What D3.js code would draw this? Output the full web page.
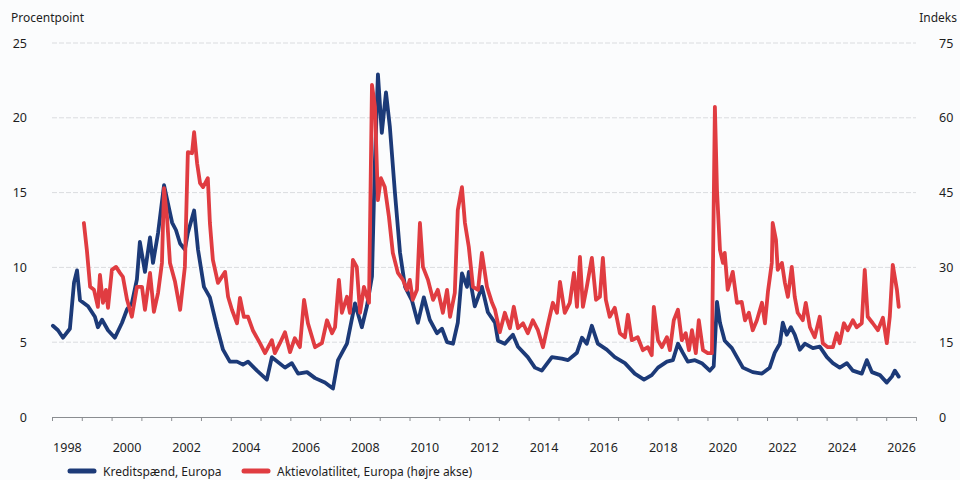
<!DOCTYPE html>
<html>
<head>
<meta charset="utf-8">
<script src="https://cdn.jsdelivr.net/npm/d3@7"></script>
<style>
  html, body { margin: 0; padding: 0; background: #fbfcfd; }
  svg { display: block; font-family: "Noto Sans", "Open Sans", sans-serif; }
</style>
</head>
<body>
<svg id="chart" width="960" height="480"></svg>
<script>
// ---- Data ----
const creditYears = [1998.03,1998.20,1998.37,1998.60,1998.74,1998.84,1998.94,1999.21,1999.44,1999.54,1999.68,1999.88,2000.11,2000.35,2000.52,2000.68,2000.85,2000.95,2001.12,2001.29,2001.39,2001.56,2001.76,2001.89,2002.03,2002.16,2002.30,2002.46,2002.56,2002.77,2002.90,2003.10,2003.30,2003.54,2003.74,2003.97,2004.21,2004.41,2004.58,2004.88,2005.21,2005.38,2005.82,2006.05,2006.26,2006.56,2006.83,2007.16,2007.43,2007.60,2007.90,2008.17,2008.40,2008.57,2008.74,2008.84,2008.94,2009.07,2009.21,2009.34,2009.51,2009.68,2009.85,2010.08,2010.28,2010.48,2010.68,2010.92,2011.09,2011.26,2011.46,2011.62,2011.76,2011.93,2011.99,2012.19,2012.43,2012.63,2012.87,2012.97,2013.20,2013.47,2013.64,2013.97,2014.21,2014.44,2014.78,2015.11,2015.32,2015.62,2015.79,2015.95,2016.12,2016.32,2016.62,2016.89,2017.23,2017.56,2017.87,2018.13,2018.34,2018.64,2018.84,2019.01,2019.17,2019.34,2019.58,2019.81,2020.08,2020.21,2020.32,2020.42,2020.58,2020.82,2020.99,2021.19,2021.52,2021.83,2022.09,2022.26,2022.43,2022.53,2022.66,2022.80,2022.93,2023.10,2023.27,2023.54,2023.77,2024.01,2024.21,2024.44,2024.68,2024.88,2025.18,2025.35,2025.52,2025.79,2026.02,2026.19,2026.29,2026.42];
const creditValues = [6.1,5.8,5.3,5.9,9.0,9.8,7.8,7.4,6.7,6.0,6.5,5.8,5.3,6.3,7.2,7.6,9.2,11.7,9.7,12.0,10.3,12.3,15.5,14.3,13.0,12.5,11.6,11.2,12.3,13.8,11.2,8.7,8.0,6.0,4.5,3.7,3.7,3.5,3.7,3.1,2.5,4.0,3.3,3.6,2.9,3.0,2.6,2.3,1.9,3.8,4.9,7.6,6.0,7.4,9.4,17.2,22.9,19.0,21.7,19.4,15.0,11.0,8.7,7.8,6.3,8.0,6.5,5.6,5.9,5.0,4.9,6.3,9.6,8.7,9.7,7.4,8.7,7.0,6.3,5.1,4.9,5.5,4.7,4.0,3.3,3.1,4.0,3.9,3.8,4.3,5.3,4.9,6.1,4.9,4.5,4.0,3.6,2.9,2.5,2.8,3.3,3.7,3.8,4.9,4.3,3.7,3.8,3.6,3.1,3.4,7.7,6.3,5.1,4.6,4.0,3.3,3.0,2.9,3.3,4.3,4.9,6.3,5.5,6.0,5.5,4.5,4.9,4.6,4.7,4.0,3.6,3.3,3.6,3.1,2.9,3.8,3.0,2.8,2.3,2.7,3.1,2.7];

const volYears = [1999.07,1999.17,1999.28,1999.41,1999.54,1999.61,1999.71,1999.81,1999.88,2000.01,2000.15,2000.28,2000.38,2000.52,2000.68,2000.85,2001.02,2001.12,2001.29,2001.42,2001.56,2001.69,2001.76,2001.86,2001.96,2002.13,2002.30,2002.46,2002.56,2002.70,2002.77,2002.87,2002.97,2003.07,2003.23,2003.30,2003.40,2003.57,2003.81,2003.91,2004.04,2004.21,2004.31,2004.44,2004.58,2004.74,2004.98,2005.15,2005.38,2005.48,2005.65,2005.82,2005.99,2006.15,2006.32,2006.46,2006.59,2006.83,2007.06,2007.23,2007.40,2007.50,2007.63,2007.73,2007.90,2008.00,2008.10,2008.23,2008.34,2008.47,2008.64,2008.74,2008.84,2008.94,2009.04,2009.17,2009.31,2009.44,2009.61,2009.78,2009.91,2010.01,2010.11,2010.25,2010.35,2010.45,2010.62,2010.79,2010.95,2011.12,2011.26,2011.36,2011.52,2011.62,2011.76,2011.86,2011.99,2012.13,2012.30,2012.43,2012.60,2012.77,2012.87,2013.03,2013.20,2013.37,2013.50,2013.64,2013.81,2013.97,2014.14,2014.31,2014.48,2014.64,2014.81,2014.95,2015.05,2015.21,2015.38,2015.52,2015.62,2015.72,2015.82,2015.95,2016.12,2016.26,2016.39,2016.49,2016.59,2016.72,2016.89,2017.06,2017.23,2017.33,2017.46,2017.66,2017.83,2018.00,2018.13,2018.20,2018.34,2018.47,2018.64,2018.74,2018.87,2019.01,2019.14,2019.27,2019.38,2019.48,2019.61,2019.71,2019.85,2020.01,2020.15,2020.25,2020.32,2020.42,2020.52,2020.58,2020.68,2020.85,2020.99,2021.15,2021.26,2021.39,2021.52,2021.66,2021.83,2021.93,2022.03,2022.16,2022.19,2022.30,2022.36,2022.50,2022.60,2022.70,2022.83,2022.93,2023.03,2023.20,2023.30,2023.44,2023.60,2023.77,2023.87,2024.04,2024.21,2024.34,2024.44,2024.58,2024.71,2024.88,2025.01,2025.18,2025.28,2025.38,2025.55,2025.72,2025.89,2026.02,2026.12,2026.22,2026.36,2026.42];
const volValues = [38.9,33.5,26.1,25.5,22.1,28.5,22.9,25.5,21.9,29.5,30.1,28.9,28.1,23.5,20.1,26.1,26.1,21.5,28.9,21.1,24.9,30.9,45.9,40.1,30.9,27.1,21.5,30.1,53.1,52.9,57.1,50.9,46.9,46.1,47.9,38.9,31.5,26.9,29.1,24.1,21.5,18.8,23.9,20.1,20.1,17.4,14.8,12.8,15.4,12.8,14.8,17.0,13.0,15.8,14.0,23.5,18.8,14.0,14.8,19.4,16.8,18.0,27.5,20.9,24.1,20.9,31.5,30.1,20.9,26.1,22.9,66.6,62.2,43.5,47.9,46.1,40.1,32.9,28.9,27.5,25.5,27.5,23.5,25.5,38.9,30.1,27.5,23.5,25.5,20.9,25.5,20.1,24.9,41.5,46.1,38.9,34.1,26.1,25.5,32.9,26.1,22.9,21.5,17.0,20.9,17.8,22.1,17.8,18.8,16.8,19.4,17.4,14.0,18.4,22.9,20.9,27.1,20.9,22.9,28.9,22.1,32.1,22.1,26.1,31.9,23.5,24.1,31.9,23.5,20.1,21.9,16.8,16.0,20.5,15.4,16.0,13.4,14.0,12.4,22.1,15.4,14.0,16.0,13.4,19.4,21.5,15.4,16.8,13.4,17.4,12.8,19.4,13.4,12.8,12.8,62.2,45.5,33.5,30.9,32.9,25.5,29.1,22.9,23.1,19.4,20.9,17.4,19.4,22.9,18.8,25.1,30.9,38.9,35.5,29.5,30.9,26.9,24.1,30.1,24.1,20.9,19.4,22.9,18.0,16.0,20.1,14.8,14.0,14.0,16.8,14.8,18.8,17.4,19.4,18.0,18.8,29.5,20.1,18.8,17.4,19.9,14.8,20.1,30.5,25.5,22.1];

const yearTicks = d3.range(1998, 2028);            // year boundaries
const yearLabels = d3.range(1998, 2027, 2);        // labelled years
const leftTicks = [0, 5, 10, 15, 20, 25];
const rightTicks = [0, 15, 30, 45, 60, 75];
const seriesNames = ["Kreditspænd, Europa", "Aktievolatilitet, Europa (højre akse)"];
const leftTitle = "Procentpoint";
const rightTitle = "Indeks";

// ---- Layout ----
const BLUE = "#1c3a78", RED = "#e03c41";
const svg = d3.select("#chart");
const x = d3.scaleLinear().domain([1998, 2027]).range([52, 916]);
const yL = d3.scaleLinear().domain([0, 25]).range([417, 43]);
const yR = d3.scaleLinear().domain([0, 75]).range([417, 43]);

// gridlines
svg.append("g").selectAll("line").data(leftTicks.filter(d => d > 0)).join("line")
  .attr("x1", 52).attr("x2", 916)
  .attr("y1", d => yL(d)).attr("y2", d => yL(d))
  .attr("stroke", "#dadcdf").attr("stroke-width", 1).attr("stroke-dasharray", "5,2");

// bottom axis with year ticks
const xAxis = svg.append("g").attr("transform", "translate(0,417)")
  .call(d3.axisBottom(x).tickValues(yearTicks).tickFormat("").tickSize(4).tickSizeOuter(4));
xAxis.select(".domain").attr("stroke", "#8a8d91");
xAxis.selectAll(".tick line").attr("stroke", "#8a8d91");

// year labels centred in each year
const xLab = svg.append("g").attr("transform", "translate(0,417)")
  .call(d3.axisBottom(x).tickValues(yearLabels.map(d => d + 0.5)).tickFormat(d => Math.floor(d)).tickSize(0).tickPadding(26));
xLab.select(".domain").remove();
xLab.selectAll("text").attr("font-size", 12.5).attr("fill", "#1e1e1e").attr("font-family", "'Noto Sans', sans-serif");

// left axis
const lAx = svg.append("g").attr("transform", "translate(30,0)")
  .call(d3.axisLeft(yL).tickValues(leftTicks).tickSize(0).tickPadding(3));
lAx.select(".domain").remove();
lAx.selectAll("text").attr("font-size", 12.5).attr("fill", "#1e1e1e").attr("font-family", "'Noto Sans', sans-serif");

// right axis
const rAx = svg.append("g").attr("transform", "translate(936,0)")
  .call(d3.axisRight(yR).tickValues(rightTicks).tickSize(0).tickPadding(3));
rAx.select(".domain").remove();
rAx.selectAll("text").attr("font-size", 12.5).attr("fill", "#1e1e1e").attr("font-family", "'Noto Sans', sans-serif");

// axis titles
svg.append("text").attr("x", 11).attr("y", 22).attr("font-size", 12).attr("fill", "#1e1e1e").text(leftTitle);
svg.append("text").attr("x", 957).attr("y", 22).attr("text-anchor", "end").attr("font-size", 12).attr("fill", "#1e1e1e").text(rightTitle);

// lines
const credit = creditYears.map((t, i) => [t, creditValues[i]]);
const vol = volYears.map((t, i) => [t, volValues[i]]);
const lineL = d3.line().x(d => x(d[0])).y(d => yL(d[1]));
const lineR = d3.line().x(d => x(d[0])).y(d => yR(d[1]));

svg.append("path").datum(credit).attr("d", lineL)
  .attr("fill", "none").attr("stroke", BLUE).attr("stroke-width", 3.8)
  .attr("stroke-linejoin", "round").attr("stroke-linecap", "round");
svg.append("path").datum(vol).attr("d", lineR)
  .attr("fill", "none").attr("stroke", RED).attr("stroke-width", 3.8)
  .attr("stroke-linejoin", "round").attr("stroke-linecap", "round");

// legend
const legend = svg.append("g");
const items = [
  {name: seriesNames[0], color: BLUE, x: 70},
  {name: seriesNames[1], color: RED, x: 244}
];
items.forEach(it => {
  legend.append("line").attr("x1", it.x).attr("x2", it.x + 24).attr("y1", 471).attr("y2", 471)
    .attr("stroke", it.color).attr("stroke-width", 5).attr("stroke-linecap", "round");
  legend.append("text").attr("x", it.x + 33).attr("y", 475.5).attr("font-size", 12)
    .attr("fill", "#1e1e1e").text(it.name);
});
</script>
</body>
</html>
